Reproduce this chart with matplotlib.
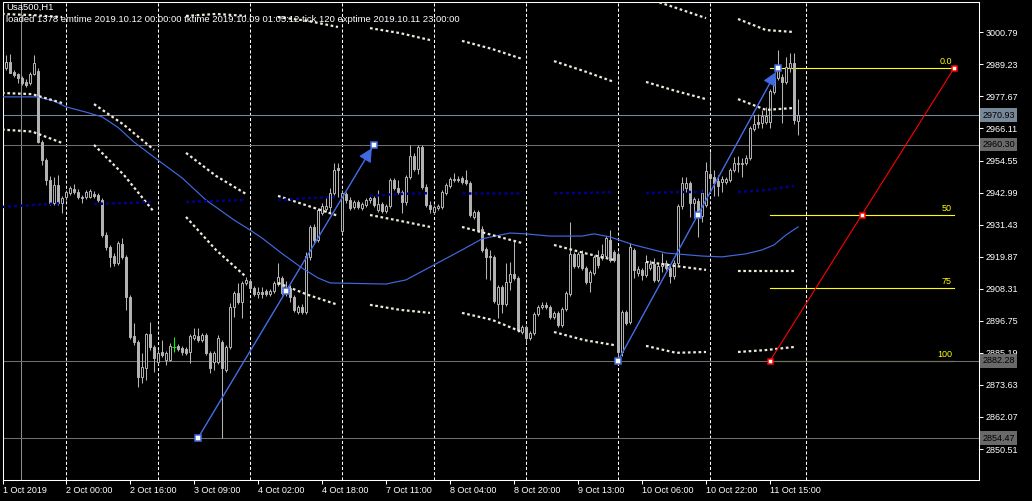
import matplotlib
matplotlib.use("Agg")
import matplotlib.pyplot as plt
import matplotlib.transforms as mtransforms
from matplotlib.patches import Rectangle, FancyArrowPatch

plt.rcParams['font.family'] = ['Liberation Sans', 'DejaVu Sans']

symbol = "Usa500,H1"
info = "loaded 1378 emtime 2019.10.12 00:00:00 tktime 2019.10.09 01:05:12 tick 120 exptime 2019.10.11 23:00:00"

# H1 bars, index 0 = first visible bar
opens = [
    2987.9, 2990.1, 2986.5, 2985.8, 2984.3, 2982.9, 2982.5, 2985.8, 2986.8, 2961.2,  # 0
    2954.7, 2947.5, 2939.2, 2945.7, 2939.2, 2941.4, 2942.8, 2944.3, 2943.2, 2941.4,  # 10
    2941.4, 2941.4, 2942.5, 2942.1, 2940.3, 2927.7, 2923.4, 2920.1, 2917.6, 2924.4,  # 20
    2919.8, 2905.3, 2891.3, 2889.1, 2876.5, 2879.7, 2892.0, 2887.3, 2881.9, 2885.5,  # 30
    2882.6, 2882.6, 2887.3, 2887.7, 2886.9, 2886.6, 2885.5, 2890.6, 2891.3, 2889.8,  # 40
    2891.6, 2885.2, 2881.9, 2881.9, 2889.1, 2879.0, 2887.3, 2901.7, 2906.8, 2903.5,  # 50
    2910.4, 2911.1, 2908.6, 2906.4, 2907.1, 2907.5, 2906.4, 2907.5, 2910.0, 2912.2,  # 60
    2906.8, 2908.6, 2905.3, 2899.9, 2901.7, 2899.9, 2919.8, 2930.6, 2925.9, 2935.6,  # 70
    2937.1, 2937.8, 2942.8, 2951.9, 2929.1, 2942.5, 2940.3, 2937.8, 2939.6, 2937.4,  # 80
    2938.5, 2940.3, 2941.0, 2936.7, 2938.9, 2936.4, 2938.2, 2947.5, 2944.7, 2943.2,  # 90
    2939.6, 2948.6, 2956.2, 2951.5, 2959.4, 2945.0, 2938.5, 2936.0, 2937.4, 2937.8,  # 100
    2942.8, 2945.4, 2947.5, 2947.9, 2948.3, 2947.5, 2946.5, 2934.2, 2936.0, 2929.9,  # 110
    2922.7, 2920.1, 2919.8, 2902.8, 2909.0, 2902.8, 2910.8, 2913.6, 2912.2, 2892.7,  # 120
    2894.5, 2890.6, 2892.4, 2899.2, 2901.7, 2902.5, 2901.7, 2898.1, 2899.6, 2895.2,  # 130
    2901.0, 2906.4, 2920.9, 2916.5, 2920.9, 2915.8, 2910.8, 2914.0, 2919.8, 2919.4,  # 140
    2920.1, 2925.9, 2921.6, 2920.9, 2885.5, 2899.9, 2896.3, 2922.3, 2914.0, 2915.1,  # 150
    2913.3, 2915.8, 2917.2, 2911.5, 2916.5, 2917.6, 2915.8, 2912.9, 2917.6, 2938.2,  # 160
    2944.7, 2946.5, 2939.2, 2939.9, 2934.5, 2938.5, 2949.7, 2948.6, 2947.2, 2946.8,  # 170
    2946.8, 2947.5, 2951.1, 2953.3, 2953.3, 2953.7, 2955.5, 2965.9, 2968.5, 2968.1,  # 180
    2968.5, 2968.5, 2979.3, 2984.3, 2984.7, 2982.9, 2987.9, 2989.7, 2968.8,          # 190
]
highs = [
    2992.6, 2993.0, 2987.2, 2986.1, 2985.0, 2984.0, 2986.5, 2992.6, 2987.9, 2962.0,
    2955.5, 2949.0, 2948.6, 2949.3, 2941.8, 2943.9, 2945.4, 2946.1, 2944.3, 2942.1,
    2943.9, 2944.3, 2943.6, 2942.8, 2941.0, 2928.8, 2924.1, 2921.2, 2925.5, 2926.6,
    2920.5, 2906.1, 2896.0, 2889.8, 2885.2, 2892.4, 2896.3, 2888.0, 2886.2, 2889.8,
    2885.9, 2888.8, 2890.9, 2888.4, 2887.7, 2887.3, 2892.0, 2894.2, 2894.2, 2892.4,
    2892.4, 2885.9, 2885.9, 2891.6, 2889.8, 2888.0, 2903.2, 2907.5, 2910.4, 2911.1,
    2912.6, 2911.8, 2909.3, 2908.9, 2908.9, 2908.2, 2908.2, 2911.1, 2917.6, 2912.9,
    2911.1, 2909.7, 2906.1, 2902.5, 2902.8, 2921.6, 2931.3, 2931.7, 2937.4, 2939.2,
    2941.4, 2944.7, 2953.7, 2953.7, 2943.9, 2943.2, 2941.4, 2940.3, 2940.3, 2939.6,
    2941.0, 2942.1, 2941.8, 2943.9, 2939.6, 2938.9, 2948.3, 2948.3, 2947.5, 2943.9,
    2949.3, 2960.2, 2957.3, 2960.2, 2960.2, 2946.1, 2940.0, 2938.5, 2938.9, 2943.9,
    2946.5, 2948.6, 2950.1, 2949.0, 2949.0, 2951.1, 2947.2, 2936.7, 2936.7, 2930.9,
    2923.4, 2922.3, 2920.5, 2909.7, 2909.7, 2917.6, 2918.0, 2925.9, 2912.9, 2895.2,
    2895.2, 2893.1, 2899.9, 2902.5, 2903.5, 2903.5, 2902.5, 2900.3, 2900.3, 2901.7,
    2907.5, 2932.4, 2921.6, 2921.6, 2922.3, 2916.5, 2915.1, 2920.5, 2922.3, 2924.4,
    2927.3, 2929.5, 2922.3, 2921.6, 2900.7, 2900.7, 2924.8, 2923.0, 2916.5, 2915.8,
    2920.5, 2918.7, 2919.4, 2918.0, 2921.2, 2918.7, 2916.9, 2918.7, 2938.9, 2948.6,
    2948.6, 2947.2, 2941.4, 2941.0, 2943.9, 2954.0, 2957.6, 2951.1, 2949.3, 2949.0,
    2948.6, 2951.9, 2955.8, 2956.2, 2955.5, 2956.6, 2967.0, 2971.0, 2971.3, 2972.8,
    2973.9, 2980.4, 2985.0, 2994.4, 2985.8, 2991.9, 2993.3, 2993.3, 2976.7,
]
lows = [
    2987.2, 2986.1, 2984.7, 2982.5, 2981.8, 2981.1, 2981.8, 2985.4, 2960.9, 2952.9,
    2945.7, 2938.5, 2938.5, 2938.5, 2935.6, 2940.3, 2942.1, 2942.5, 2940.7, 2939.2,
    2940.7, 2941.0, 2941.0, 2939.6, 2927.0, 2922.3, 2916.2, 2916.5, 2916.9, 2919.0,
    2900.7, 2890.2, 2888.0, 2872.9, 2874.3, 2875.4, 2886.2, 2878.3, 2881.2, 2883.7,
    2880.8, 2882.3, 2885.5, 2885.9, 2884.4, 2884.4, 2881.5, 2889.8, 2889.1, 2889.1,
    2884.4, 2877.9, 2879.0, 2881.2, 2854.47, 2878.3, 2886.6, 2898.1, 2902.8, 2897.8,
    2909.7, 2907.9, 2905.7, 2905.0, 2905.0, 2905.7, 2905.7, 2906.8, 2909.3, 2906.1,
    2905.7, 2903.5, 2899.9, 2899.2, 2899.2, 2899.2, 2918.7, 2924.8, 2925.2, 2934.9,
    2936.0, 2936.0, 2942.1, 2941.4, 2928.4, 2939.2, 2936.7, 2937.1, 2937.1, 2936.7,
    2937.8, 2939.2, 2937.8, 2936.0, 2935.6, 2935.6, 2937.4, 2943.9, 2942.5, 2935.6,
    2938.5, 2947.9, 2950.8, 2949.7, 2944.3, 2937.8, 2935.6, 2935.3, 2936.7, 2937.1,
    2942.1, 2944.7, 2946.8, 2946.8, 2946.1, 2945.7, 2934.2, 2933.5, 2928.8, 2921.6,
    2911.8, 2911.5, 2903.2, 2897.8, 2899.6, 2902.1, 2907.9, 2911.5, 2892.7, 2892.0,
    2888.8, 2889.8, 2891.6, 2898.5, 2901.0, 2901.0, 2897.4, 2897.4, 2894.5, 2894.5,
    2900.3, 2905.7, 2915.8, 2915.8, 2915.1, 2910.0, 2907.1, 2913.3, 2915.8, 2918.7,
    2919.4, 2918.0, 2918.0, 2882.28, 2884.1, 2895.2, 2895.6, 2912.2, 2912.9, 2911.5,
    2912.6, 2915.1, 2910.8, 2910.8, 2914.4, 2915.1, 2910.4, 2911.8, 2916.9, 2937.1,
    2943.2, 2934.2, 2933.8, 2927.0, 2932.4, 2937.8, 2942.8, 2941.8, 2941.8, 2943.2,
    2946.1, 2946.8, 2950.4, 2950.4, 2948.6, 2952.9, 2954.7, 2965.2, 2966.3, 2966.3,
    2967.7, 2966.3, 2978.5, 2983.6, 2968.1, 2982.2, 2986.5, 2967.7, 2963.8,
]
closes = [
    2990.1, 2986.1, 2985.4, 2984.3, 2982.5, 2981.8, 2985.8, 2989.7, 2961.2, 2954.7,
    2947.5, 2939.2, 2945.7, 2939.2, 2941.0, 2943.2, 2944.7, 2943.2, 2941.4, 2941.0,
    2943.2, 2943.6, 2941.8, 2940.3, 2927.7, 2923.4, 2919.8, 2917.6, 2924.8, 2919.8,
    2905.3, 2890.9, 2889.1, 2876.5, 2880.1, 2892.0, 2887.3, 2883.3, 2885.2, 2884.4,
    2885.2, 2887.7, 2887.3, 2886.6, 2885.5, 2885.2, 2891.3, 2891.6, 2889.8, 2891.6,
    2885.2, 2879.7, 2885.2, 2890.6, 2879.7, 2887.3, 2901.7, 2906.8, 2903.5, 2910.4,
    2911.5, 2908.6, 2906.4, 2907.1, 2906.4, 2906.4, 2907.5, 2910.4, 2912.6, 2906.8,
    2908.6, 2905.3, 2900.7, 2901.7, 2899.9, 2920.1, 2930.6, 2925.9, 2936.7, 2938.2,
    2938.2, 2942.8, 2951.1, 2951.1, 2942.8, 2940.3, 2937.4, 2939.6, 2937.8, 2938.9,
    2940.3, 2941.0, 2938.5, 2938.9, 2936.4, 2938.2, 2947.5, 2944.7, 2943.2, 2939.6,
    2948.6, 2956.2, 2951.5, 2959.4, 2945.0, 2938.5, 2937.1, 2937.8, 2938.2, 2943.2,
    2945.7, 2947.9, 2947.9, 2947.5, 2946.8, 2946.5, 2934.9, 2936.0, 2929.5, 2922.3,
    2919.8, 2919.8, 2903.9, 2909.0, 2902.8, 2910.8, 2913.6, 2912.2, 2893.4, 2894.5,
    2890.6, 2892.4, 2899.2, 2901.7, 2902.5, 2901.7, 2898.1, 2899.6, 2895.2, 2901.0,
    2906.8, 2920.9, 2916.5, 2920.9, 2915.8, 2910.8, 2914.4, 2919.8, 2916.9, 2920.9,
    2926.6, 2918.7, 2918.7, 2885.5, 2899.9, 2896.0, 2923.4, 2915.1, 2915.4, 2913.3,
    2918.0, 2917.2, 2911.5, 2916.5, 2917.6, 2915.8, 2912.9, 2917.6, 2938.2, 2946.5,
    2946.5, 2939.2, 2940.7, 2935.6, 2942.8, 2950.8, 2948.3, 2946.5, 2945.4, 2947.9,
    2947.9, 2951.1, 2953.7, 2953.7, 2953.7, 2955.5, 2966.3, 2967.7, 2967.7, 2970.6,
    2970.6, 2979.6, 2984.3, 2987.9, 2982.9, 2988.3, 2989.7, 2969.2, 2970.93,
]

# moving average, read at sample bars
ma_bars = [-1, 8, 12, 15, 20, 24, 28, 32, 38, 44, 50, 57, 61, 64, 69, 74, 78, 81,
           88, 95, 100, 107, 114, 119, 126, 130, 136, 144, 147, 151, 157, 165, 174,
           179, 185, 189, 192, 195, 198]
ma_vals = [2977.5, 2977.5, 2976.0, 2973.9, 2972.0, 2970.3, 2966.5, 2961.2, 2954.7,
           2948.3, 2940.3, 2933.1, 2929.5, 2926.6, 2921.0, 2915.8, 2912.2, 2910.4,
           2910.2, 2910.0, 2911.5, 2916.9, 2922.3, 2926.3, 2928.4, 2928.1, 2927.3,
           2927.3, 2928.1, 2927.0, 2924.1, 2921.2, 2920.1, 2919.8, 2920.9, 2922.3,
           2924.1, 2927.7, 2930.6]

# session segments of the band indicator (first / last bar of each day session)
seg_first = [-1, 22, 45, 68, 91, 114, 137, 160, 183]
seg_last = [14, 37, 60, 83, 106, 129, 152, 175, 197]
# each band: (start, middle, end) value per session, None = not shown
band0 = [None, None, None, None, None, None, None,
         (3013.2, 3009.6, 3005.9), (3005.6, 3001.6, 3000.9)]
band1 = [(3007.4, 3007.0, 3006.3), None, (3006.7, 3007.4, 3006.7),
         (3006.3, 3004.9, 3002.7), (3002.3, 3000.5, 2998.0), (2997.7, 2994.8, 2991.2),
         (2990.4, 2986.8, 2982.9), (2982.9, 2979.6, 2976.7), (2976.7, 2972.8, 2973.5)]
band2 = [(2978.9, 2978.5, 2975.3), (2974.9, 2967.4, 2958.4), (2957.3, 2949.0, 2942.5),
         (2941.8, 2938.2, 2934.6), (2934.9, 2932.8, 2930.6), (2930.6, 2927.7, 2924.8),
         (2924.1, 2921.2, 2918.7), (2918.0, 2916.5, 2915.1), (2914.7, 2914.7, 2914.7)]
band3 = [(2965.7, 2965.0, 2960.9), (2960.2, 2949.3, 2936.0), (2934.2, 2922.3, 2912.6),
         (2910.4, 2906.1, 2902.5), (2902.5, 2900.7, 2899.6), (2899.6, 2897.1, 2892.7),
         (2892.7, 2889.8, 2888.0), (2887.7, 2885.2, 2885.5), (2885.5, 2886.2, 2887.3)]
band_mid = [(2937.8, 2938.5, 2939.2), (2938.9, 2939.2, 2939.6), (2939.6, 2940.0, 2940.3),
            (2940.3, 2941.0, 2941.4), (2941.8, 2942.5, 2942.8), (2942.8, 2942.8, 2942.8),
            (2942.8, 2942.8, 2943.2), (2942.8, 2943.2, 2943.2), (2943.2, 2943.9, 2945.4)]

day_starts = [15, 38, 61, 84, 107, 130, 153, 176, 200]
vline_bar = 3.75

bid_price = 2970.93
levels = [2960.30, 2882.28, 2854.47]

arrows = [((48, 2854.47), (92, 2960.30)),
          ((153, 2882.28), (193, 2987.8))]

fib_a = (191, 2882.28)
fib_b = (237, 2987.8)
fib_pcts = [0, 50, 75, 100]
fib_names = ["0.0", "50", "75", "100"]

price_ticks = [3000.79, 2989.23, 2977.67, 2966.11, 2954.55, 2942.99, 2931.43,
               2919.87, 2908.31, 2896.75, 2885.19, 2873.63, 2862.07, 2850.51]
first_label = "1 Oct 2019"
time_labels = ["2 Oct 00:00", "2 Oct 16:00", "3 Oct 09:00", "4 Oct 02:00",
               "4 Oct 18:00", "7 Oct 11:00", "8 Oct 04:00", "8 Oct 20:00",
               "9 Oct 13:00", "10 Oct 06:00", "10 Oct 22:00", "11 Oct 15:00"]

W, H = 1032, 501
fig = plt.figure(figsize=(W / 100, H / 100), dpi=100, facecolor='black')
ax = fig.add_axes([3 / W, 21 / H, 976 / W, 478 / H], facecolor='black')
ax.set_xlim(-0.75, 243.25)
ax.set_ylim(2839.33, 3011.72)

CANDLE = '#b4b4b4'
ROYAL = '#4169e1'
FS = 6.5

# day separators
for d in day_starts:
    ax.axvline(d, color='white', lw=0.75, ls=(0, (3, 2)), zorder=1)
ax.axvline(vline_bar, color='#8c8c8c', lw=0.75, zorder=1.5)

# price levels
ax.axhline(bid_price, color='#778899', lw=0.75, zorder=1.5)
for lv in levels:
    ax.axhline(lv, color='#6e6e6e', lw=0.75, zorder=1.6)

# candles
for i in range(len(closes)):
    o, h, l, c = opens[i], highs[i], lows[i], closes[i]
    if o == c:
        ax.vlines(i, l, h, color='#00ff00', lw=0.75, zorder=3)
        ax.hlines(c, i - 0.4, i + 0.4, color='#00ff00', lw=0.75, zorder=3)
        continue
    ax.vlines(i, l, h, color=CANDLE, lw=0.75, zorder=2)
    face = 'black' if c > o else CANDLE
    bot = min(o, c)
    ax.add_patch(Rectangle((i - 0.3, bot), 0.6, max(abs(c - o), 0.25),
                           facecolor=face, edgecolor=CANDLE, lw=0.7, zorder=3))

# moving average
ax.plot(ma_bars, ma_vals, color=ROYAL, lw=0.85, zorder=4)

# band indicator
for band, col, lw in [(band0, '#efeadc', 1.6), (band1, '#efeadc', 1.6),
                      (band2, '#efeadc', 1.6), (band3, '#efeadc', 1.6),
                      (band_mid, '#00008b', 1.8)]:
    for k, vals in enumerate(band):
        if vals is None:
            continue
        a, b = seg_first[k], seg_last[k]
        ax.plot([a, (a + b) / 2, b], vals, color=col, lw=lw,
                ls=(0, (1.2, 1.2)), zorder=4)

# arrowed trend lines
for (p0, p1) in arrows:
    ax.plot([p0[0], p1[0]], [p0[1], p1[1]], color=ROYAL, lw=0.8, zorder=5)
    ax.add_patch(FancyArrowPatch(p0, p1, arrowstyle='-|>,head_length=0.7,head_width=0.35',
                                 mutation_scale=12, color=ROYAL, lw=0.8,
                                 shrinkA=0, shrinkB=3, zorder=5))
    mid = ((p0[0] + p1[0]) / 2, (p0[1] + p1[1]) / 2)
    ax.plot([p0[0], mid[0], p1[0]], [p0[1], mid[1], p1[1]], ls='none', marker='s',
            ms=3.8, mfc='white', mec=ROYAL, mew=1.1, zorder=6)

# fibonacci
fib_hi, fib_lo = fib_b[1], fib_a[1]
for pct, name in zip(fib_pcts, fib_names):
    p = fib_hi - (fib_hi - fib_lo) * pct / 100
    ax.plot([fib_a[0], fib_b[0]], [p, p], color='#ffff00', lw=0.8, zorder=1.4)
    ax.annotate(name, (fib_b[0] - 0.5, p), xytext=(0, 1.5), textcoords='offset points',
                ha='right', va='bottom', color='#ffff00', fontsize=FS, zorder=6)
ax.plot([fib_a[0], fib_b[0]], [fib_a[1], fib_b[1]], color='#ff0000', lw=0.8, zorder=5)
fmid = ((fib_a[0] + fib_b[0]) / 2, (fib_a[1] + fib_b[1]) / 2)
ax.plot([fib_a[0], fmid[0], fib_b[0]], [fib_a[1], fmid[1], fib_b[1]], ls='none',
        marker='s', ms=3.6, mfc='white', mec='#ff0000', mew=1.1, zorder=6)

# axes styling
for sp in ax.spines.values():
    sp.set_color('white')
    sp.set_linewidth(0.75)
ax.yaxis.tick_right()
ax.set_yticks(price_ticks)
ax.set_yticklabels(["%.2f" % v for v in price_ticks])
ax.tick_params(axis='y', colors='white', direction='out', length=3, width=0.75,
               labelsize=FS, pad=1.5)
xt = [-0.75] + [15 + 16 * k for k in range(len(time_labels))]
ax.set_xticks(xt)
ax.set_xticklabels([first_label] + time_labels, ha='left')
ax.tick_params(axis='x', colors='white', direction='out', length=3, width=0.75,
               labelsize=FS, pad=1.5)

# right-hand price boxes
tr = mtransforms.blended_transform_factory(ax.transAxes, ax.transData)
boxes = [(bid_price, '#778899')] + [(lv, '#696969') for lv in levels]
for v, col in boxes:
    ax.text(1.0035, v, "%.2f" % v, transform=tr, ha='left', va='center',
            fontsize=FS, color='black', clip_on=False, zorder=10,
            bbox=dict(boxstyle='square,pad=0.25', fc=col, ec='none'))

fig.text(6 / W, 1 - 3 / H, symbol, color='white', fontsize=6.8, va='top', ha='left')
fig.text(6 / W, 1 - 15 / H, info, color='white', fontsize=6.8, va='top', ha='left')

fig.savefig('out.png', dpi=100, facecolor='black')
